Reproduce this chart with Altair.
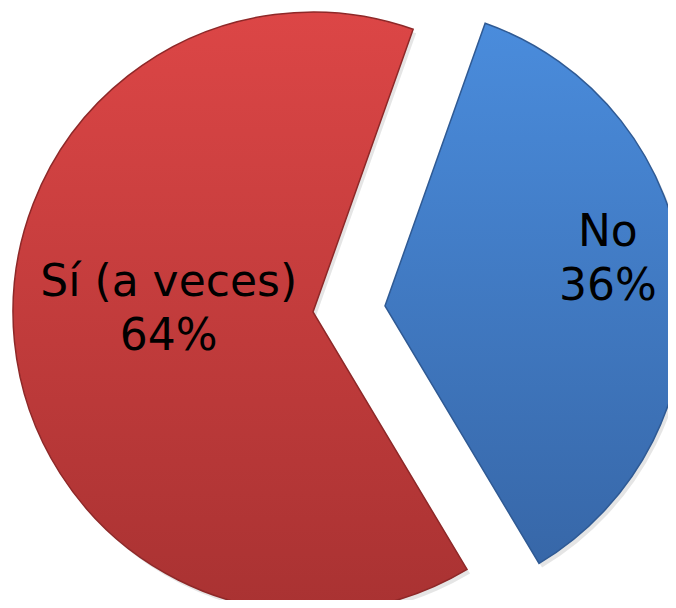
import math
import altair as alt
import pandas as pd

# Data
categories = ["No", "Sí (a veces)"]
values = [36, 64]
labels = ["No\n36%", "Sí (a veces)\n64%"]
order = [0, 1]

df = pd.DataFrame({"cat": categories, "value": values, "label": labels, "order": order})

start = math.radians(19.5)
theta_scale = alt.Scale(domain=[0, 100], range=[start, start + 2 * math.pi])

base = (
    alt.Chart(df)
    .transform_stack(stack="value", groupby=[], as_=["s", "e"], sort=[alt.SortField("order")])
    .transform_calculate(mid="(datum.s + datum.e) / 2")
)

def grad(top, bottom):
    return alt.Gradient(
        gradient="linear",
        stops=[alt.GradientStop(color=top, offset=0), alt.GradientStop(color=bottom, offset=1)],
        x1=0, x2=0, y1=0, y2=1,
    )

styles = {
    "No": dict(fill=grad("#4A8CDC", "#3767A8"), stroke="#2F5A94", xo=47, yo=2,
               r=227, dx=-3, dy=-50),
    "Sí (a veces)": dict(fill=grad("#DC4646", "#A93232"), stroke="#8E2828", xo=-25, yo=8,
                         r=145, dx=0, dy=-43),
}

layers = []
for cat in categories:
    st = styles[cat]
    layers.append(
        base.transform_filter(alt.datum.cat == cat)
        .mark_arc(radius=300, fill="#000000", opacity=0.10,
                  xOffset=st["xo"] + 3, yOffset=st["yo"] + 4, clip=True)
        .encode(theta=alt.Theta("s:Q", scale=theta_scale), theta2="e:Q")
    )
for cat in categories:
    st = styles[cat]
    layers.append(
        base.transform_filter(alt.datum.cat == cat)
        .mark_arc(radius=300, fill=st["fill"], stroke=st["stroke"], strokeWidth=1.5,
                  xOffset=st["xo"], yOffset=st["yo"], clip=True)
        .encode(theta=alt.Theta("s:Q", scale=theta_scale), theta2="e:Q")
    )
for cat in categories:
    st = styles[cat]
    layers.append(
        base.transform_filter(alt.datum.cat == cat)
        .mark_text(radius=st["r"], xOffset=st["xo"] + st["dx"], yOffset=st["yo"] + st["dy"],
                   font="DejaVu Sans", fontSize=44, lineBreak="\n", lineHeight=54,
                   align="center", baseline="middle", color="#000000")
        .encode(theta=alt.Theta("mid:Q", scale=theta_scale, stack=False), text="label:N")
    )

chart = (
    alt.layer(*layers)
    .properties(width=660, height=592, autosize=alt.AutoSizeParams(type="none"), padding=0,
                background="#FFFFFF")
    .configure_view(stroke=None)
)

chart.save("out.html", embed_options={"renderer": "svg", "actions": False})
